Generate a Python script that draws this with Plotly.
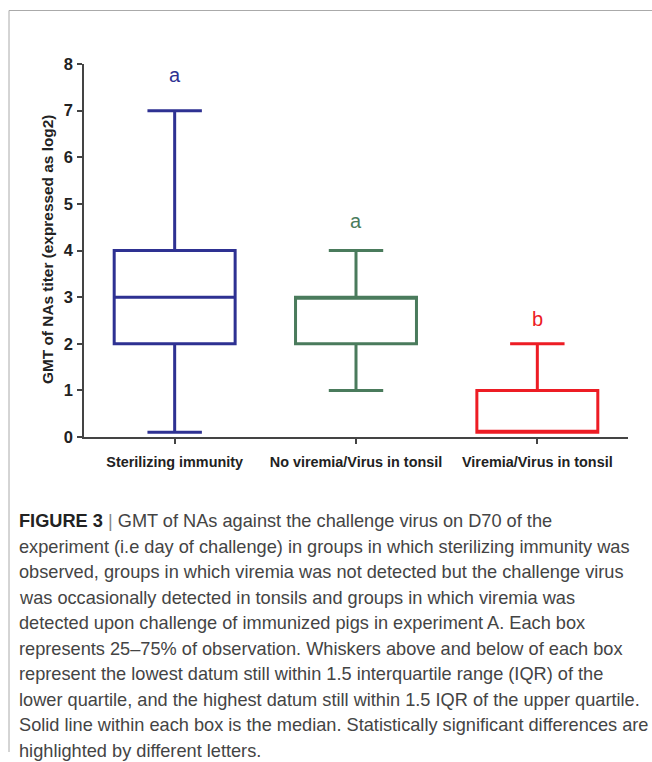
import plotly.graph_objects as go

# Group summary statistics (GMT of NAs titer, log2)
groups = ["Sterilizing immunity", "No viremia/Virus in tonsil", "Viremia/Virus in tonsil"]
lower_fence = [0.1, 1.0, 0.1]
q1 = [2.0, 2.0, 0.1]
median = [3.0, 3.0, 0.1]
q3 = [4.0, 3.0, 1.0]
upper_fence = [7.0, 4.0, 2.0]
colors = ["#2E3192", "#4A7B5C", "#ED1C24"]

# Significance letters and their heights
letters = ["a", "a", "b"]
letter_y = [7.77, 4.63, 2.53]

y_ticks = [0, 1, 2, 3, 4, 5, 6, 7, 8]

caption_lines = [
    "<b><span style='color:#222'>FIGURE 3</span></b> <span style='color:#888'>|</span> GMT of NAs against the challenge virus on D70 of the",
    "experiment (i.e day of challenge) in groups in which sterilizing immunity was",
    "observed, groups in which viremia was not detected but the challenge virus",
    "was occasionally detected in tonsils and groups in which viremia was",
    "detected upon challenge of immunized pigs in experiment A. Each box",
    "represents 25–75% of observation. Whiskers above and below of each box",
    "represent the lowest datum still within 1.5 interquartile range (IQR) of the",
    "lower quartile, and the highest datum still within 1.5 IQR of the upper quartile.",
    "Solid line within each box is the median. Statistically significant differences are",
    "highlighted by different letters.",
]

FONT = "Liberation Sans"
W, H = 652, 762
L, R, T, B = 84, 24, 64, 325
PW, PH = W - L - R, H - T - B


def px_x(px):
    return (px - L) / PW


def px_y(py):
    return (H - B - py) / PH


fig = go.Figure()
for i, g in enumerate(groups):
    fig.add_trace(go.Box(
        x=[g],
        q1=[q1[i]], median=[median[i]], q3=[q3[i]],
        lowerfence=[lower_fence[i]], upperfence=[upper_fence[i]],
        width=0.667, whiskerwidth=0.45,
        line=dict(color=colors[i], width=3),
        fillcolor="rgba(0,0,0,0)",
        boxpoints=False, showlegend=False, hoverinfo="skip",
    ))

annotations = []
for i, g in enumerate(groups):
    annotations.append(dict(
        x=g, y=letter_y[i], xref="x", yref="y", text=letters[i],
        showarrow=False, font=dict(family=FONT, size=20, color=colors[i]),
        xanchor="center", yanchor="middle",
    ))

annotations.append(dict(
    x=px_x(47), y=px_y(250), xref="paper", yref="paper",
    text="<b>GMT of NAs titer (expressed as log2)</b>", textangle=-90,
    showarrow=False, font=dict(family=FONT, size=15.4, color="#222"),
    xanchor="center", yanchor="middle",
))

for k, line in enumerate(caption_lines):
    annotations.append(dict(
        x=px_x(17), y=px_y(521 + k * 25.5), xref="paper", yref="paper",
        text=line, showarrow=False, align="left",
        font=dict(family=FONT, size=18.2, color="#444"),
        xanchor="left", yanchor="middle",
    ))

shapes = [
    dict(type="line", xref="paper", yref="paper", x0=px_x(9), x1=px_x(652),
         y0=px_y(10.5), y1=px_y(10.5), line=dict(color="#aaaaaa", width=1)),
    dict(type="line", xref="paper", yref="paper", x0=px_x(9), x1=px_x(9),
         y0=px_y(10.5), y1=px_y(752), line=dict(color="#aaaaaa", width=1)),
]

fig.update_layout(
    width=W, height=H,
    margin=dict(l=L, r=R, t=T, b=B, autoexpand=False),
    paper_bgcolor="white", plot_bgcolor="white",
    boxmode="overlay",
    annotations=annotations, shapes=shapes,
    font=dict(family=FONT, color="#222"),
)
fig.update_xaxes(
    type="category", range=[-0.5, 2.5], showgrid=False, zeroline=False,
    showline=True, linecolor="#444", linewidth=1.5,
    ticks="outside", ticklen=5, tickwidth=1.5, tickcolor="#444",
    tickfont=dict(family=FONT, size=14.4, color="#222", weight="bold"),
    ticklabelstandoff=6,
    automargin=False,
)
fig.update_yaxes(
    range=[0, 8], tickvals=y_ticks, showgrid=False, zeroline=False,
    showline=True, linecolor="#444", linewidth=1.5,
    ticks="outside", ticklen=5, tickwidth=1.5, tickcolor="#444",
    tickfont=dict(family=FONT, size=16.5, color="#222", weight="bold"),
    ticklabelstandoff=1,
    automargin=False,
)

fig.write_html("out.html")
